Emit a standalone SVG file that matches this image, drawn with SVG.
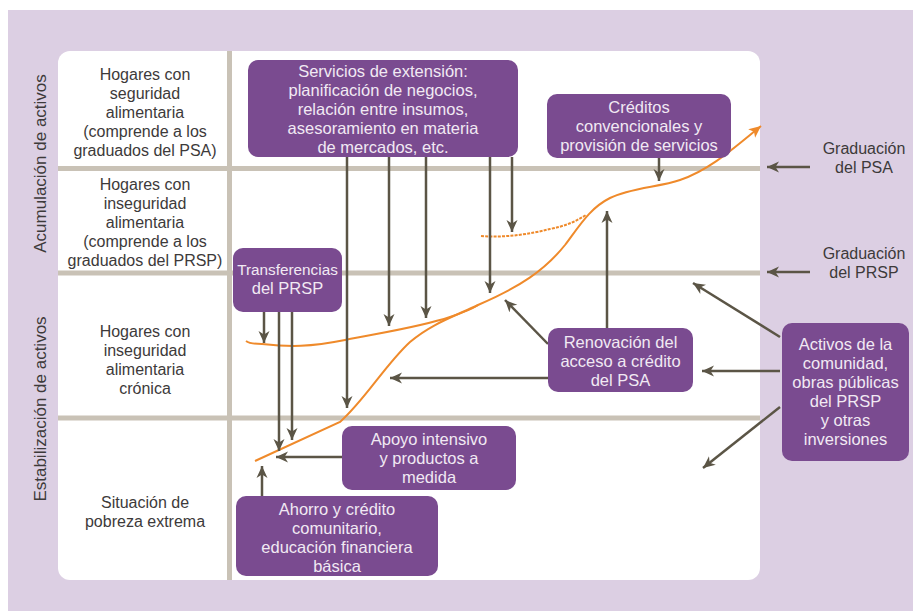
<svg xmlns="http://www.w3.org/2000/svg" width="913" height="611" viewBox="0 0 913 611">
<defs>
<marker id="ah" viewBox="0 0 12 12" refX="12" refY="6" markerWidth="12" markerHeight="12" markerUnits="userSpaceOnUse" orient="auto"><path d="M0,0.5 L12,6 L0,11.5 L3.5,6 z" fill="#5b5546"/></marker>
<marker id="ao" viewBox="0 0 12 12" refX="12" refY="6" markerWidth="12" markerHeight="12" markerUnits="userSpaceOnUse" orient="auto"><path d="M0,0.5 L12,6 L0,11.5 L3,6 z" fill="#ef8a2b"/></marker>
</defs>
<style>
.lbl{font-family:"Liberation Sans",Arial,sans-serif;font-size:16px;fill:#3d3a3a;text-anchor:middle}
.side{font-family:"Liberation Sans",Arial,sans-serif;font-size:17px;fill:#3d3a3a;text-anchor:middle}
.bx{fill:#7a4b90}
.bt{font-family:"Liberation Sans",Arial,sans-serif;font-size:16.5px;fill:#f1e9f3;text-anchor:middle}
.grid{stroke:#c9c2b6;stroke-width:5;fill:none}
.con{stroke:#5b5546;stroke-width:2.5;fill:none;marker-end:url(#ah)}
.cur{stroke:#ef8a2b;stroke-width:2;fill:none}
</style>
<rect x="0" y="0" width="913" height="611" fill="#ffffff"/>
<rect x="8" y="10" width="905" height="601" fill="#dccfe3"/>
<rect x="58" y="51" width="702" height="529" rx="12" fill="#ffffff"/>
<g id="grid">
<line class="grid" x1="229.5" y1="51" x2="229.5" y2="580"/>
<line class="grid" x1="58" y1="168.5" x2="760" y2="168.5"/>
<line class="grid" x1="58" y1="273" x2="760" y2="273"/>
<line class="grid" x1="58" y1="418" x2="760" y2="418"/>
</g>
<g id="side-labels">
<text class="side" transform="translate(46,163.5) rotate(-90)">Acumulación de activos</text>
<text class="side" transform="translate(46,409) rotate(-90)">Estabilización de activos</text>
</g>
<g id="row-labels">
<text class="lbl" x="145" y="80">Hogares con</text>
<text class="lbl" x="145" y="99">seguridad</text>
<text class="lbl" x="145" y="118">alimentaria</text>
<text class="lbl" x="145" y="137">(comprende a los</text>
<text class="lbl" x="145" y="156">graduados del PSA)</text>
<text class="lbl" x="145" y="190">Hogares con</text>
<text class="lbl" x="145" y="209">inseguridad</text>
<text class="lbl" x="145" y="228">alimentaria</text>
<text class="lbl" x="145" y="247">(comprende a los</text>
<text class="lbl" x="145" y="266">graduados del PRSP)</text>
<text class="lbl" x="145" y="337">Hogares con</text>
<text class="lbl" x="145" y="356">inseguridad</text>
<text class="lbl" x="145" y="375">alimentaria</text>
<text class="lbl" x="145" y="394">crónica</text>
<text class="lbl" x="145" y="508">Situación de</text>
<text class="lbl" x="145" y="527">pobreza extrema</text>
</g>
<g id="grad-labels">
<text class="lbl" x="864" y="154">Graduación</text>
<text class="lbl" x="864" y="173">del PSA</text>
<text class="lbl" x="864" y="259">Graduación</text>
<text class="lbl" x="864" y="278">del PRSP</text>
</g>
<g id="curves">
<path class="cur" d="M255,461 L340,422 C365,400 385,365 410,342 C430,325 450,318 478,305 C520,287 545,270 565,245 C580,225 590,208 610,198 C630,188 660,187 680,180 C710,170 735,147 761,126" marker-end="url(#ao)"/>
<path class="cur" d="M246,341 C250,344 256,344 262,344 C290,347 310,347 345,340 C385,332 420,327 450,317 C465,312 472,309 478,305"/>
<path class="cur" d="M481,236 C505,238 530,234 550,229 C565,226 575,222 586,215" stroke-dasharray="3 1.2"/>
</g>
<g id="connectors">
<path class="con" d="M347,157 V408"/>
<path class="con" d="M389,157 V326"/>
<path class="con" d="M426,157 V318"/>
<path class="con" d="M490,157 V293"/>
<path class="con" d="M512,157 V232"/>
<path class="con" d="M659,158 V181"/>
<path class="con" d="M264,312 V343"/>
<path class="con" d="M279,312 V451"/>
<path class="con" d="M292,312 V440"/>
<path class="con" d="M342,457 H276"/>
<path class="con" d="M262,496 V466"/>
<path class="con" d="M607,328 V211"/>
<path class="con" d="M548,344 L505,300"/>
<path class="con" d="M548,378 H390"/>
<path class="con" d="M780,337 L693,283"/>
<path class="con" d="M780,371 H702"/>
<path class="con" d="M780,407 L703,468"/>
<path class="con" d="M810,167 H767"/>
<path class="con" d="M810,272 H767"/>
</g>
<g id="servicios">
<rect class="bx" x="248" y="60" width="270" height="97" rx="10"/>
<text class="bt" x="383" y="77">Servicios de extensión:</text>
<text class="bt" x="383" y="96">planificación de negocios,</text>
<text class="bt" x="383" y="115">relación entre insumos,</text>
<text class="bt" x="383" y="134">asesoramiento en materia</text>
<text class="bt" x="383" y="153">de mercados, etc.</text>
</g>
<g id="creditos">
<rect class="bx" x="547" y="94" width="184" height="64" rx="10"/>
<text class="bt" x="639" y="113">Créditos</text>
<text class="bt" x="639" y="132">convencionales y</text>
<text class="bt" x="639" y="151">provisión de servicios</text>
</g>
<g id="transferencias">
<rect class="bx" x="233" y="248" width="109" height="64" rx="10"/>
<text class="bt" x="287.5" y="275" style="font-size:15.3px">Transferencias</text>
<text class="bt" x="287.5" y="294">del PRSP</text>
</g>
<g id="renovacion">
<rect class="bx" x="548" y="328" width="145" height="64" rx="10"/>
<text class="bt" x="620.5" y="348">Renovación del</text>
<text class="bt" x="620.5" y="367">acceso a crédito</text>
<text class="bt" x="620.5" y="386">del PSA</text>
</g>
<g id="activos">
<rect class="bx" x="782" y="323" width="127" height="138" rx="10"/>
<text class="bt" x="845.5" y="350">Activos de la</text>
<text class="bt" x="845.5" y="369">comunidad,</text>
<text class="bt" x="845.5" y="388">obras públicas</text>
<text class="bt" x="845.5" y="407">del PRSP</text>
<text class="bt" x="845.5" y="426">y otras</text>
<text class="bt" x="845.5" y="445">inversiones</text>
</g>
<g id="apoyo">
<rect class="bx" x="342" y="426" width="174" height="64" rx="10"/>
<text class="bt" x="429" y="445">Apoyo intensivo</text>
<text class="bt" x="429" y="464">y productos a</text>
<text class="bt" x="429" y="483">medida</text>
</g>
<g id="ahorro">
<rect class="bx" x="236" y="496" width="202" height="80" rx="10"/>
<text class="bt" x="337" y="515">Ahorro y crédito</text>
<text class="bt" x="337" y="534">comunitario,</text>
<text class="bt" x="337" y="553">educación financiera</text>
<text class="bt" x="337" y="572">básica</text>
</g>
</svg>
